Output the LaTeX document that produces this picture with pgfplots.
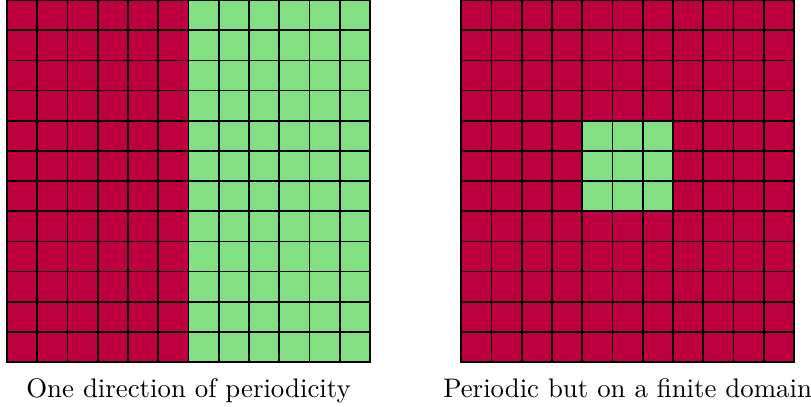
\documentclass[border=0pt]{standalone}
\usepackage{pgfplots}
\pgfplotsset{compat=1.18}
\pgfplotsset{
  gridcell/.style={
    scale only axis,
    enlargelimits=false,
    axis on top,
    clip=false,
    colormap={rg}{rgb255(0)=(191,0,64) rgb255(1)=(130,224,130)},
    point meta min=0, point meta max=1,
    xticklabels={}, yticklabels={},
    major tick length=0pt,
    grid=major,
    grid style={black, line width=0.7pt, opacity=1},
    axis line style={black, line width=0.7pt},
    ymin=-0.5, ymax=11.5,
    ytick={-0.5,0.5,...,11.5},
  }
}
\begin{document}
\begin{tikzpicture}
\useasboundingbox (0,0) rectangle (331pt,-166.1pt);
\begin{axis}[gridcell,
  at={(2.86pt,0pt)}, anchor=north west,
  width=148.2pt, height=147.8pt,
  xmin=-0.5, xmax=11.5,
  xtick={-0.5,0.5,...,11.5}]
\addplot[matrix plot*, mesh/cols=12, point meta=explicit] table[row sep=\\, meta=c] {
x y c\\
0 0 0\\ 1 0 0\\ 2 0 0\\ 3 0 0\\ 4 0 0\\ 5 0 0\\ 6 0 1\\ 7 0 1\\ 8 0 1\\ 9 0 1\\ 10 0 1\\ 11 0 1\\
0 1 0\\ 1 1 0\\ 2 1 0\\ 3 1 0\\ 4 1 0\\ 5 1 0\\ 6 1 1\\ 7 1 1\\ 8 1 1\\ 9 1 1\\ 10 1 1\\ 11 1 1\\
0 2 0\\ 1 2 0\\ 2 2 0\\ 3 2 0\\ 4 2 0\\ 5 2 0\\ 6 2 1\\ 7 2 1\\ 8 2 1\\ 9 2 1\\ 10 2 1\\ 11 2 1\\
0 3 0\\ 1 3 0\\ 2 3 0\\ 3 3 0\\ 4 3 0\\ 5 3 0\\ 6 3 1\\ 7 3 1\\ 8 3 1\\ 9 3 1\\ 10 3 1\\ 11 3 1\\
0 4 0\\ 1 4 0\\ 2 4 0\\ 3 4 0\\ 4 4 0\\ 5 4 0\\ 6 4 1\\ 7 4 1\\ 8 4 1\\ 9 4 1\\ 10 4 1\\ 11 4 1\\
0 5 0\\ 1 5 0\\ 2 5 0\\ 3 5 0\\ 4 5 0\\ 5 5 0\\ 6 5 1\\ 7 5 1\\ 8 5 1\\ 9 5 1\\ 10 5 1\\ 11 5 1\\
0 6 0\\ 1 6 0\\ 2 6 0\\ 3 6 0\\ 4 6 0\\ 5 6 0\\ 6 6 1\\ 7 6 1\\ 8 6 1\\ 9 6 1\\ 10 6 1\\ 11 6 1\\
0 7 0\\ 1 7 0\\ 2 7 0\\ 3 7 0\\ 4 7 0\\ 5 7 0\\ 6 7 1\\ 7 7 1\\ 8 7 1\\ 9 7 1\\ 10 7 1\\ 11 7 1\\
0 8 0\\ 1 8 0\\ 2 8 0\\ 3 8 0\\ 4 8 0\\ 5 8 0\\ 6 8 1\\ 7 8 1\\ 8 8 1\\ 9 8 1\\ 10 8 1\\ 11 8 1\\
0 9 0\\ 1 9 0\\ 2 9 0\\ 3 9 0\\ 4 9 0\\ 5 9 0\\ 6 9 1\\ 7 9 1\\ 8 9 1\\ 9 9 1\\ 10 9 1\\ 11 9 1\\
0 10 0\\ 1 10 0\\ 2 10 0\\ 3 10 0\\ 4 10 0\\ 5 10 0\\ 6 10 1\\ 7 10 1\\ 8 10 1\\ 9 10 1\\ 10 10 1\\ 11 10 1\\
0 11 0\\ 1 11 0\\ 2 11 0\\ 3 11 0\\ 4 11 0\\ 5 11 0\\ 6 11 1\\ 7 11 1\\ 8 11 1\\ 9 11 1\\ 10 11 1\\ 11 11 1\\
};
\node[anchor=base, inner sep=0pt, font=\fontsize{10.95}{13.6}\selectfont] at ([yshift=-14.3pt]rel axis cs:0.5,0) {One direction of periodicity};
\end{axis}
\begin{axis}[gridcell,
  at={(188.2pt,0pt)}, anchor=north west,
  width=135.9pt, height=147.8pt,
  xmin=-0.5, xmax=10.5,
  xtick={-0.5,0.5,...,10.5}]
\addplot[matrix plot*, mesh/cols=11, point meta=explicit] table[row sep=\\, meta=c] {
x y c\\
0 0 0\\ 1 0 0\\ 2 0 0\\ 3 0 0\\ 4 0 0\\ 5 0 0\\ 6 0 0\\ 7 0 0\\ 8 0 0\\ 9 0 0\\ 10 0 0\\
0 1 0\\ 1 1 0\\ 2 1 0\\ 3 1 0\\ 4 1 0\\ 5 1 0\\ 6 1 0\\ 7 1 0\\ 8 1 0\\ 9 1 0\\ 10 1 0\\
0 2 0\\ 1 2 0\\ 2 2 0\\ 3 2 0\\ 4 2 0\\ 5 2 0\\ 6 2 0\\ 7 2 0\\ 8 2 0\\ 9 2 0\\ 10 2 0\\
0 3 0\\ 1 3 0\\ 2 3 0\\ 3 3 0\\ 4 3 0\\ 5 3 0\\ 6 3 0\\ 7 3 0\\ 8 3 0\\ 9 3 0\\ 10 3 0\\
0 4 0\\ 1 4 0\\ 2 4 0\\ 3 4 0\\ 4 4 0\\ 5 4 0\\ 6 4 0\\ 7 4 0\\ 8 4 0\\ 9 4 0\\ 10 4 0\\
0 5 0\\ 1 5 0\\ 2 5 0\\ 3 5 0\\ 4 5 1\\ 5 5 1\\ 6 5 1\\ 7 5 0\\ 8 5 0\\ 9 5 0\\ 10 5 0\\
0 6 0\\ 1 6 0\\ 2 6 0\\ 3 6 0\\ 4 6 1\\ 5 6 1\\ 6 6 1\\ 7 6 0\\ 8 6 0\\ 9 6 0\\ 10 6 0\\
0 7 0\\ 1 7 0\\ 2 7 0\\ 3 7 0\\ 4 7 1\\ 5 7 1\\ 6 7 1\\ 7 7 0\\ 8 7 0\\ 9 7 0\\ 10 7 0\\
0 8 0\\ 1 8 0\\ 2 8 0\\ 3 8 0\\ 4 8 0\\ 5 8 0\\ 6 8 0\\ 7 8 0\\ 8 8 0\\ 9 8 0\\ 10 8 0\\
0 9 0\\ 1 9 0\\ 2 9 0\\ 3 9 0\\ 4 9 0\\ 5 9 0\\ 6 9 0\\ 7 9 0\\ 8 9 0\\ 9 9 0\\ 10 9 0\\
0 10 0\\ 1 10 0\\ 2 10 0\\ 3 10 0\\ 4 10 0\\ 5 10 0\\ 6 10 0\\ 7 10 0\\ 8 10 0\\ 9 10 0\\ 10 10 0\\
0 11 0\\ 1 11 0\\ 2 11 0\\ 3 11 0\\ 4 11 0\\ 5 11 0\\ 6 11 0\\ 7 11 0\\ 8 11 0\\ 9 11 0\\ 10 11 0\\
};
\node[anchor=base, inner sep=0pt, font=\fontsize{10.95}{13.6}\selectfont] at ([yshift=-14.3pt]rel axis cs:0.5,0) {Periodic but on a finite domain};
\end{axis}
\end{tikzpicture}
\end{document}
